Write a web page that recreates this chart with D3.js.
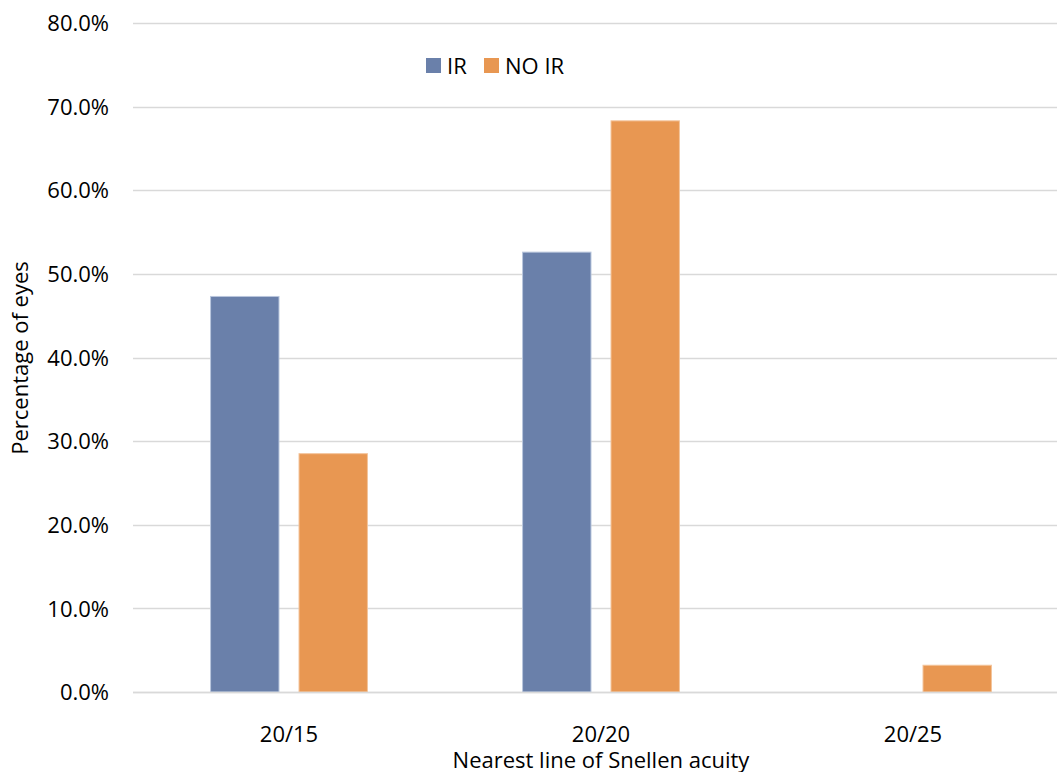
<!DOCTYPE html>
<html><head><meta charset="utf-8">
<script src="https://cdn.jsdelivr.net/npm/d3@7"></script>
<style>body{margin:0;background:#fff;} text{font-family:"Open Sans",sans-serif;fill:#000;}</style>
</head><body>
<svg id="chart" width="1057" height="772"></svg>
<script>
const categories = ["20/15", "20/20", "20/25"];
const seriesNames = ["IR", "NO IR"];
const irValues = [0.473, 0.526, 0.0];
const noIrValues = [0.285, 0.683, 0.032];
const yTicks = [0, 0.1, 0.2, 0.3, 0.4, 0.5, 0.6, 0.7, 0.8];
const colors = ["#6a80aa", "#e89752"];
const strokes = ["#b9c6dd", "#f3c59c"];

(function(){
const svg = d3.select("#chart");
const pLeft = 133, pRight = 1069, pTop = 23, pBottom = 692;
const fs = 22;
const y = d3.scaleLinear().domain([0, 0.8]).range([pBottom, pTop]);
const x0 = d3.scaleBand().domain(categories).range([pLeft, pRight]).padding(0);
const bw = x0.bandwidth();
const x1 = d3.scaleBand().domain(seriesNames).range([bw * 0.247, bw * 0.753]).paddingInner(0.215).paddingOuter(0);

svg.append("g").selectAll("line").data(yTicks).join("line")
  .attr("x1", pLeft).attr("x2", 1057)
  .attr("y1", d => Math.round(y(d)) + 0.5).attr("y2", d => Math.round(y(d)) + 0.5)
  .attr("stroke", "#d9d9d9").attr("stroke-width", 1.3);

const yAxis = d3.axisLeft(y).tickValues(yTicks).tickFormat(d3.format(".1%")).tickSize(0).tickPadding(0);
const ya = svg.append("g").attr("transform", `translate(109,0)`).call(yAxis);
ya.select(".domain").remove();
ya.selectAll("text").attr("font-size", fs).attr("font-family", "Open Sans").attr("fill", "#000").attr("dy", "0.35em");

const data = [irValues, noIrValues];
seriesNames.forEach((s, si) => {
  svg.append("g").selectAll("rect").data(categories).join("rect")
    .attr("x", c => x0(c) + x1(s) + 0.5)
    .attr("width", x1.bandwidth() - 1)
    .attr("y", (c, i) => y(data[si][i]))
    .attr("height", (c, i) => pBottom - y(data[si][i]))
    .attr("fill", colors[si])
    .attr("stroke", strokes[si])
    .attr("stroke-width", 1)
    .style("display", (c, i) => data[si][i] > 0 ? null : "none");
});

svg.append("line").attr("x1", pLeft).attr("x2", 1057).attr("y1", pBottom + 0.5).attr("y2", pBottom + 0.5)
  .attr("stroke", "#d9d9d9").attr("stroke-width", 1.5);

const xAxis = d3.axisBottom(x0).tickSize(0).tickPadding(0);
const xa = svg.append("g").attr("transform", `translate(0,${pBottom})`).call(xAxis);
xa.select(".domain").remove();
xa.selectAll("text").attr("font-size", fs).attr("font-family", "Open Sans").attr("fill", "#000").attr("dy", null).attr("y", 50);

svg.append("text").attr("x", 601).attr("y", 768).attr("text-anchor", "middle").attr("font-size", fs).text("Nearest line of Snellen acuity");
svg.append("text").attr("transform", "translate(28,358) rotate(-90)").attr("text-anchor", "middle").attr("font-size", fs).text("Percentage of eyes");

const legend = svg.append("g");
const lx = [426, 484];
seriesNames.forEach((s, i) => {
  legend.append("rect").attr("x", lx[i]).attr("y", 58).attr("width", 15).attr("height", 15).attr("fill", colors[i]);
  legend.append("text").attr("x", lx[i] + 21).attr("y", 74).attr("font-size", fs).text(s);
});
})();
</script>
</body></html>
